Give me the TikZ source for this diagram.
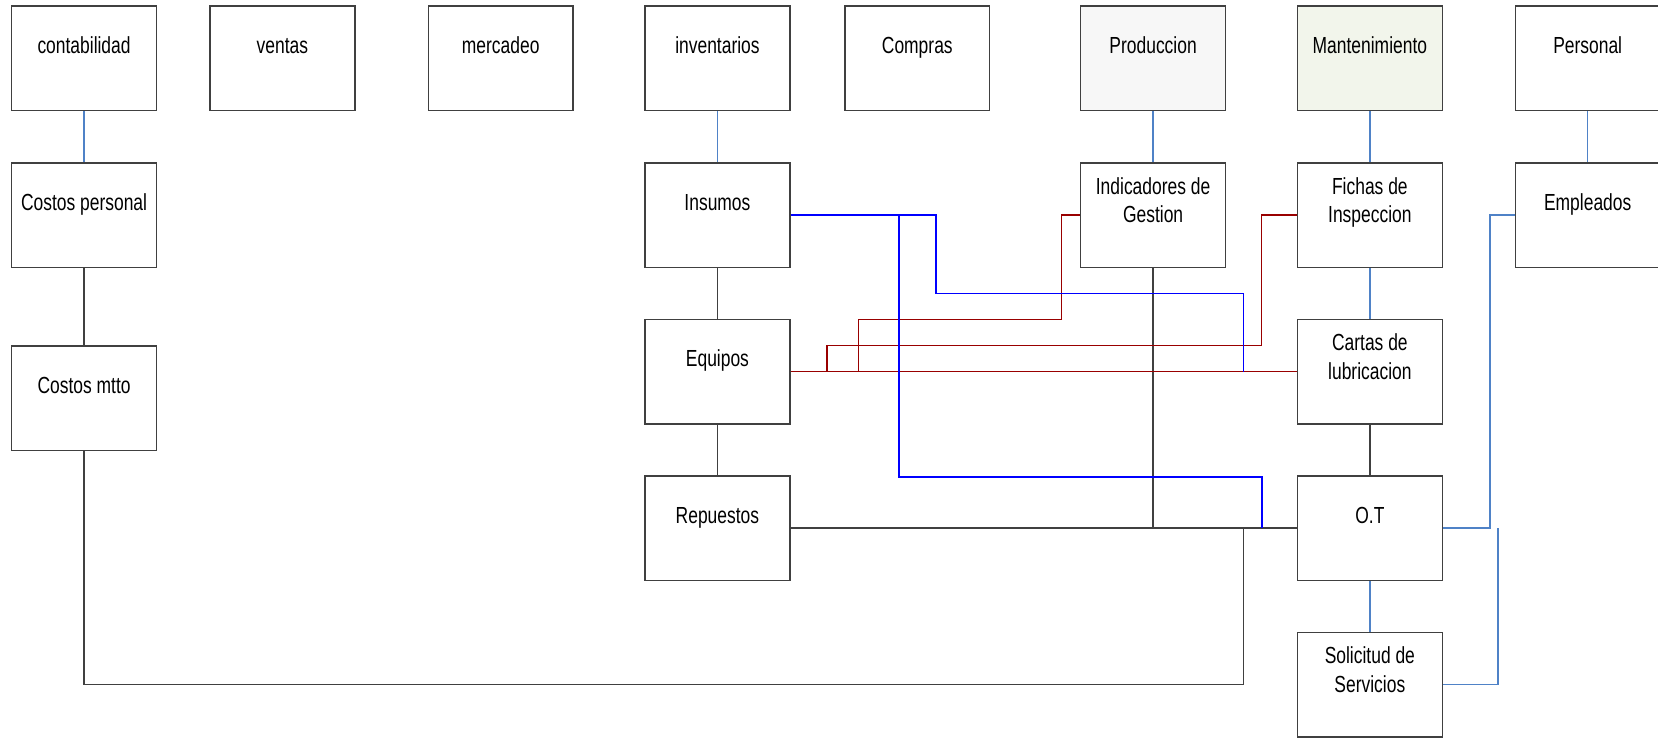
\documentclass[tikz,border=0pt]{standalone}
\usepackage{fontspec}
\setmainfont[FakeStretch=0.75]{Liberation Sans}
\definecolor{qqqqff}{rgb}{0,0,1}
\definecolor{ttqqqq}{rgb}{0.6,0,0}
\definecolor{zzttcc}{rgb}{0.31,0.51,0.78}
\definecolor{wwwwww}{rgb}{0.25,0.25,0.25}
\definecolor{xfxfxf}{rgb}{0.97,0.97,0.97}
\definecolor{xfxfxe}{rgb}{0.95,0.96,0.92}
\begin{document}
\begin{tikzpicture}[x=1pt,y=-1pt,
	caja/.style={draw=wwwwww,line width=1.4pt,fill=white,minimum width=137pt,minimum height=99pt,inner sep=0pt},
	txt/.style={anchor=center,yshift=-40pt,align=center,inner sep=0pt,font=\fontsize{22}{27}\selectfont,
		execute at begin node=\strut,execute at end node=\strut},
	negro/.style={wwwwww,line width=1.3pt},
	azul/.style={zzttcc,line width=1.4pt},
	rojo/.style={ttqqqq,line width=1.4pt},
	blu/.style={qqqqff,line width=1.4pt}]
	\useasboundingbox (0,0) rectangle (1568,698);
	% fila de areas
	\node[caja,label={[txt]north:contabilidad}] (conta) at (79.5,55) {};
	\node[caja,label={[txt]north:ventas}] (vent) at (267,55) {};
	\node[caja,label={[txt]north:mercadeo}] (merc) at (473.5,55) {};
	\node[caja,label={[txt]north:inventarios}] (inv) at (678.5,55) {};
	\node[caja,label={[txt]north:Compras}] (comp) at (867.5,55) {};
	\node[caja,fill=xfxfxf,label={[txt]north:Produccion}] (prod) at (1090.5,55) {};
	\node[caja,fill=xfxfxe,label={[txt]north:Mantenimiento}] (mant) at (1295.5,55) {};
	\node[caja,label={[txt]north:Personal}] (pers) at (1501.5,55) {};
	% segunda fila
	\node[caja,label={[txt]north:Costos personal}] (cper) at (79.5,203.5) {};
	\node[caja,label={[txt]north:Insumos}] (ins) at (678.5,203.5) {};
	\node[caja,label={[txt]north:{Indicadores de\\Gestion}}] (ind) at (1090.5,203.5) {};
	\node[caja,label={[txt]north:{Fichas de\\Inspeccion}}] (fic) at (1295.5,203.5) {};
	\node[caja,label={[txt]north:Empleados}] (emp) at (1501.5,203.5) {};
	% resto
	\node[caja,label={[txt]north:Costos mtto}] (cmtto) at (79.5,376.5) {};
	\node[caja,label={[txt]north:Equipos}] (equ) at (678.5,351.5) {};
	\node[caja,label={[txt]north:{Cartas de\\lubricacion}}] (car) at (1295.5,351.5) {};
	\node[caja,label={[txt]north:Repuestos}] (rep) at (678.5,499.5) {};
	\node[caja,label={[txt]north:O.T}] (ot) at (1295.5,499.5) {};
	\node[caja,label={[txt]north:{Solicitud de\\Servicios}}] (sol) at (1295.5,647.5) {};
	\coordinate (j1) at (1176,499.5);
	% lineas azul claro
	\draw[azul] (conta.south) -- (cper.north);
	\draw[azul] (inv.south) -- (ins.north);
	\draw[azul] (prod.south) -- (ind.north);
	\draw[azul] (mant.south) -- (fic.north);
	\draw[azul] (pers.south) -- (emp.north);
	\draw[azul] (fic.south) -- (car.north);
	\draw[azul] (ot.south) -- (sol.north);
	\draw[azul] (emp.west) -- ++(-23,0) |- (ot.east);
	\draw[azul] (sol.east) -| ([xshift=52pt]ot.east);
	% lineas negras
	\draw[negro] (cper.south) -- (cmtto.north);
	\draw[negro] (ins.south) -- (equ.north);
	\draw[negro] (equ.south) -- (rep.north);
	\draw[negro] (car.south) -- (ot.north);
	\draw[negro] (rep.east) -- (ot.west);
	\draw[negro] (ind.south) -- (ind.south |- ot.west);
	\draw[negro] (cmtto.south) |- (j1 |- sol.east) -- (j1);
	% lineas rojas
	\draw[rojo] (equ.east) -- (car.west);
	\draw[rojo] (ind.west) -| (1004,302) -| (812,351.5);
	\draw[rojo] (fic.west) -| (1193,326.5) -| (782,351.5);
	% lineas azules
	\draw[blu] (ins.east) -| (885,277.5) -| (j1 |- car.west);
	\draw[blu] (ins.east) -| (850,451) -| (1193.5,499.5);
\end{tikzpicture}
\end{document}
